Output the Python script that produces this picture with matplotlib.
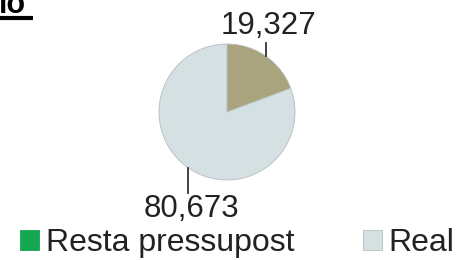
import numpy as np
import matplotlib.pyplot as plt
from matplotlib.patches import Patch

plt.rcParams['font.family'] = ['Liberation Sans', 'DejaVu Sans']

# data
labels = ['Resta pressupost', 'Real']
values = [19327, 80673]
pie_colors = ['#A9A37E', '#D4E0E2']
legend_colors = ['#14A651', '#D4E0E2']
value_text = ['19,327', '80,673']

W, H = 467, 260
fig = plt.figure(figsize=(W / 100, H / 100), dpi=100)
ax = fig.add_axes([0, 0, 1, 1])

cx, cy, r = 227, H - 112, 68
wedges, _ = ax.pie(values, colors=pie_colors, startangle=90, counterclock=False,
                   center=(cx, cy), radius=r, frame=True,
                   wedgeprops={'edgecolor': '#B8BDBE', 'linewidth': 0.6})
ax.set_xlim(0, W)
ax.set_ylim(0, H)
ax.set_axis_off()

# leader lines + value labels
line_len = [13, 25]
for w, txt, ll in zip(wedges, value_text, line_len):
    mid = np.deg2rad((w.theta1 + w.theta2) / 2)
    x0 = cx + r * np.cos(mid)
    y0 = cy + r * np.sin(mid)
    sgn = 1 if np.sin(mid) > 0 else -1
    y1 = y0 + sgn * ll
    ax.plot([x0, x0], [y0, y1], color='#333333', lw=1.3)
    off = 2 if sgn > 0 else 1
    ax.text(x0 + 3, y1 + sgn * off, txt, ha='center', va='bottom' if sgn > 0 else 'top',
            fontsize=22.5, color='#222222')

# title fragment, clipped at the top
fig.text(-0.002, 1 - 13 / H, 'lo', fontsize=22, fontweight='bold', color='black',
         va='baseline', ha='left')
ax.plot([0, 33], [H - 18, H - 18], color='black', lw=3, solid_capstyle='butt')

handles = [Patch(facecolor=c, edgecolor='#B8BDBE' if c == '#D4E0E2' else c, lw=0.6)
           for c in legend_colors]
fig.legend(handles, labels, loc='center left', bbox_to_anchor=(20 / W, 1 - 243 / H), ncol=2,
           frameon=False, fontsize=23, handlelength=0.6, handleheight=0.6,
           handletextpad=0.2, columnspacing=2.15, labelcolor='#222222',
           borderpad=0, borderaxespad=0)

fig.savefig('out.png', dpi=100)
